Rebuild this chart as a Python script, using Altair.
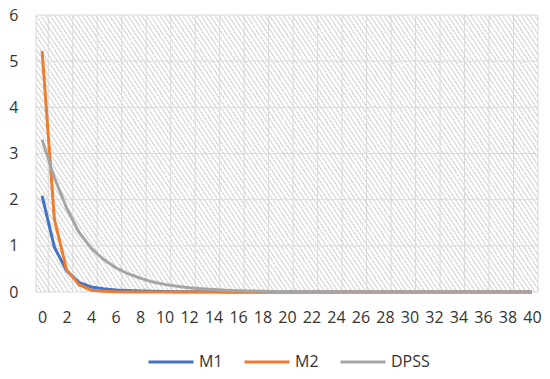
import altair as alt
import pandas as pd

# ---- data ----
x_cat = list(range(41))
m1 = [2.08, 0.97, 0.46, 0.21, 0.11, 0.07, 0.045, 0.03, 0.02, 0.015, 0.01,
      0.008, 0.006, 0.004, 0.003, 0.002, 0.0015, 0.001, 0.001, 0.0005, 0,
      0, 0, 0, 0, 0, 0, 0, 0, 0, 0, 0, 0, 0, 0, 0, 0, 0, 0, 0, 0]
m2 = [5.22, 1.58, 0.48, 0.16, 0.04, 0.015, 0.005, 0.002, 0.001, 0, 0,
      0, 0, 0, 0, 0, 0, 0, 0, 0, 0, 0, 0, 0, 0, 0, 0, 0, 0, 0, 0,
      0, 0, 0, 0, 0, 0, 0, 0, 0, 0]
dpss = [3.3, 2.48, 1.82, 1.3, 0.95, 0.71, 0.53, 0.4, 0.3, 0.22, 0.165,
        0.125, 0.093, 0.07, 0.052, 0.039, 0.029, 0.022, 0.016, 0.012, 0.009,
        0.007, 0.005, 0.004, 0.003, 0.002, 0.0015, 0.001, 0.001, 0.0005, 0,
        0, 0, 0, 0, 0, 0, 0, 0, 0, 0]
series_names = ["M1", "M2", "DPSS"]
series_colors = ["#4472C4", "#ED7D31", "#A5A5A5"]
y_ticks = [0, 1, 2, 3, 4, 5, 6]
x_labels = list(range(0, 41, 2))
# category boundaries carrying vertical gridlines (Excel category axis)
x_grid = [-0.5] + [0.5 + 2 * i for i in range(21)]

rows = []
for name, vals in zip(series_names, [m1, m2, dpss]):
    for xv, yv in zip(x_cat, vals):
        rows.append({"x": xv, "value": yv, "series": name})
df = pd.DataFrame(rows)

W, H = 502, 277
FONT = "Open Sans"
FS = 16
TXT = "#333333"
GRID = "#d9d9d9"

# hatched plot-area background built as a striped linear gradient
N = 150
stops = []
for i in range(N):
    a = i / N
    b = (i + 0.36) / N
    c = (i + 1) / N
    stops += [
        {"offset": a, "color": "#dedede"},
        {"offset": b, "color": "#dedede"},
        {"offset": b, "color": "#ffffff"},
        {"offset": c, "color": "#ffffff"},
    ]
hatch_fill = {"gradient": "linear", "stops": stops,
              "x1": 0, "y1": 1, "x2": 1.205, "y2": 0.559}

x_scale = alt.Scale(domain=[-0.5, 40.5], nice=False, zero=False)
y_scale = alt.Scale(domain=[0, 6], nice=False)

x_axis = alt.Axis(values=x_labels, domain=False, ticks=False,
                  grid=False, labelPadding=17,
                  labelFontSize=FS, labelFont=FONT, labelColor=TXT,
                  labelFlush=False, labelOverlap=False)
y_axis = alt.Axis(values=y_ticks, domain=False, ticks=False,
                  grid=False, labelPadding=18, labelFontSize=FS,
                  labelFont=FONT, labelColor=TXT)

bg = alt.Chart(pd.DataFrame({"k": [0]})).mark_rect(
    fill=hatch_fill, stroke=None
).encode(
    x=alt.value(0), x2=alt.value(W), y=alt.value(0), y2=alt.value(H)
)

vgrid = alt.Chart(pd.DataFrame({"g": x_grid})).mark_rule(
    color=GRID, strokeWidth=1
).encode(x=alt.X("g:Q", scale=x_scale, axis=x_axis, title=None),
         y=alt.value(0), y2=alt.value(H))

hgrid = alt.Chart(pd.DataFrame({"t": y_ticks})).mark_rule(
    color=GRID, strokeWidth=1
).encode(y=alt.Y("t:Q", scale=y_scale, axis=y_axis, title=None),
         x=alt.value(0), x2=alt.value(W))

lines = alt.Chart(df).mark_line(strokeWidth=3, strokeJoin="round").encode(
    x=alt.X("x:Q", scale=x_scale, title=None, axis=x_axis),
    y=alt.Y("value:Q", scale=y_scale, title=None, axis=y_axis),
    color=alt.Color("series:N", sort=series_names,
                    scale=alt.Scale(domain=series_names, range=series_colors),
                    legend=alt.Legend(title=None, orient="none", direction="horizontal",
                                      legendX=111, legendY=323, gridAlign="all",
                                      symbolType="stroke", symbolSize=2025,
                                      symbolStrokeWidth=3, labelFontSize=FS,
                                      labelFont=FONT, labelColor=TXT,
                                      labelOffset=4, columnPadding=0)),
    order=alt.Order("x:Q"),
)

chart = alt.layer(bg, vgrid, hgrid, lines).properties(
    width=W, height=H,
    autosize="none",
    padding={"left": 28, "top": 7, "right": 4, "bottom": 79},
).configure_view(stroke=None)

chart.save("out.html", embed_options={"renderer": "svg", "actions": False})
